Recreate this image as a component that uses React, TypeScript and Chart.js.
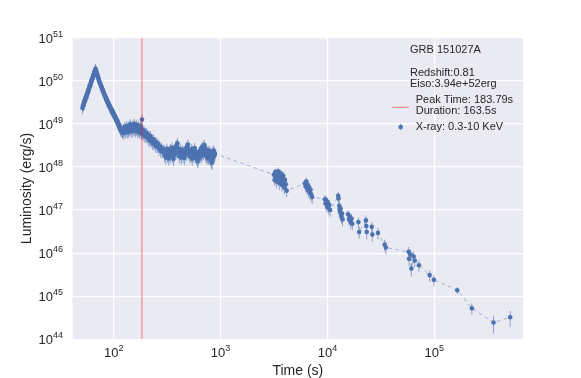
import { useEffect, useRef } from 'react';
import { Chart, registerables } from 'chart.js';

Chart.register(...registerables);

// ---- X-ray luminosity light curve, GRB 151027A (time in s, luminosity in erg/s) ----
const riseTime = [51, 51.5, 52, 52.5, 53, 53.5, 54, 54.5, 55, 55.5, 56, 56.5, 57, 57.5, 58, 58.5, 59, 59.5, 60, 60.5, 61, 61.5, 62, 62.5, 63, 63.5, 64, 64.5, 65, 65.5, 66, 66.5, 67, 67.5, 68];
const riseLum = [2.34e49, 2.63e49, 2.82e49, 2.75e49, 3.16e49, 3.55e49, 3.47e49, 3.98e49, 4.27e49, 4.17e49, 4.79e49, 5.01e49, 5.5e49, 5.37e49, 6.17e49, 6.31e49, 6.92e49, 7.59e49, 7.94e49, 7.76e49, 8.91e49, 9.33e49, 1.0e50, 1.05e50, 1.12e50, 1.15e50, 1.26e50, 1.32e50, 1.41e50, 1.48e50, 1.58e50, 1.66e50, 1.74e50, 1.91e50, 1.78e50];
const riseErr = 0.28;

const decayTime = [68.5, 69, 69.5, 70, 70.5, 71, 71.5, 72, 73, 74, 75, 76, 77, 78, 79, 80, 81, 82, 83, 84, 85, 86, 87, 88, 89, 90, 91, 92, 93, 94, 95, 96, 97, 98, 99, 100, 101, 102, 103, 104, 105, 106, 107, 108, 109, 110, 111, 112, 113, 114, 115, 116, 117, 118, 120];
const decayLum = [1.7e50, 1.58e50, 1.51e50, 1.41e50, 1.35e50, 1.26e50, 1.2e50, 1.12e50, 1.02e50, 9.12e49, 8.51e49, 7.59e49, 7.24e49, 6.46e49, 6.17e49, 5.5e49, 5.25e49, 4.68e49, 4.57e49, 4.07e49, 3.98e49, 3.55e49, 3.47e49, 3.16e49, 3.09e49, 2.82e49, 2.75e49, 2.51e49, 2.4e49, 2.29e49, 2.14e49, 2.09e49, 1.95e49, 1.91e49, 1.78e49, 1.74e49, 1.58e49, 1.55e49, 1.45e49, 1.41e49, 1.32e49, 1.29e49, 1.17e49, 1.2e49, 1.07e49, 1.02e49, 9.55e48, 9.77e48, 8.71e48, 8.32e48, 7.94e48, 7.24e48, 7.59e48, 6.92e48, 6.61e48];
const decayErr = 0.28;

const plateau1Time = [121, 122.5, 124, 125.5, 127, 128.5, 130, 131.5, 133, 134.5, 136, 137.5, 139, 140.5, 142, 143.5, 145, 146.5, 148, 149.5, 151, 152.5, 154, 155.5, 157, 158.5, 160, 161.5, 163, 164.5, 166, 167.5, 169, 170.5, 172, 173.5, 175, 176.5, 178, 179.5, 181, 182.5, 183.8, 185, 186.5];
const plateau1Lum = [6.61e48, 7.94e48, 6.17e48, 7.24e48, 8.51e48, 6.46e48, 7.59e48, 8.91e48, 6.92e48, 8.13e48, 6.31e48, 7.76e48, 9.12e48, 7.08e48, 8.32e48, 9.77e48, 7.41e48, 8.71e48, 6.76e48, 8.13e48, 9.33e48, 7.24e48, 8.51e48, 1.0e49, 7.59e48, 8.91e48, 6.92e48, 8.32e48, 9.55e48, 7.41e48, 8.51e48, 6.61e48, 7.94e48, 9.12e48, 7.08e48, 8.13e48, 6.31e48, 7.59e48, 8.71e48, 6.76e48, 7.76e48, 6.03e48, 1.26e49, 7.24e48, 6.31e48];
const plateau1Err = 0.3;

const decay2Time = [188, 190.5, 193, 195.5, 198, 200.5, 203, 206, 209, 212, 215, 218, 221, 224, 227, 231, 235, 239, 243, 247, 251, 255, 260, 265, 270, 275, 280, 285, 290];
const decay2Lum = [7.08e48, 5.75e48, 6.76e48, 5.25e48, 6.17e48, 5.13e48, 6.17e48, 5.01e48, 5.62e48, 4.37e48, 5.13e48, 4.17e48, 5.25e48, 4.07e48, 4.47e48, 3.55e48, 4.37e48, 3.47e48, 3.89e48, 3.02e48, 3.72e48, 3.02e48, 3.47e48, 2.63e48, 3.02e48, 2.34e48, 2.82e48, 2.29e48, 2.51e48];
const decay2Err = 0.3;

const plateau2Time = [
  295, 299, 303, 307, 311, 315, 319, 323, 327, 331, 335, 339, 343, 347, 351, 355, 359, 363, 367, 371, 375, 379, 383, 387, 391, 395, 399,
  405, 411, 417, 423, 429, 435, 441, 447, 453, 459, 465, 471, 477, 483, 489, 495, 501, 507, 513, 519, 525, 531, 537, 543, 549, 555, 561, 567, 573, 579, 585, 591, 597,
  603, 609, 615, 621, 627, 633, 639, 645, 651, 657, 663, 669, 675, 681, 687, 693, 699, 705, 711, 717, 723, 729, 735, 741, 747, 753, 759, 765, 771, 777, 783, 789, 795, 801, 807, 813, 819, 825, 831, 837, 843, 849, 855, 861, 867, 873, 879, 885,
];
const plateau2Lum = [
  2.51e48, 1.91e48, 2.29e48, 1.66e48, 2.14e48, 2.63e48, 1.82e48, 2.04e48, 1.58e48, 2.34e48, 1.95e48, 2.57e48, 1.74e48, 2.19e48, 2.82e48, 1.86e48, 2.09e48, 1.55e48, 2.29e48, 1.91e48, 2.51e48, 2.95e48, 2.14e48, 3.16e48, 2.4e48, 3.55e48, 2.75e48,
  2.29e48, 1.78e48, 2.09e48, 2.57e48, 1.66e48, 2.0e48, 2.4e48, 1.82e48, 2.24e48, 1.62e48, 2.14e48, 2.69e48, 1.95e48, 2.88e48, 2.34e48, 3.31e48, 2.51e48, 2.04e48, 2.45e48, 1.74e48, 2.19e48, 1.91e48, 2.63e48, 1.55e48, 2.04e48, 2.34e48, 1.78e48, 2.14e48, 2.75e48, 1.86e48, 2.29e48, 1.66e48, 2.0e48,
  1.62e48, 1.38e48, 1.86e48, 1.51e48, 2.14e48, 1.74e48, 2.29e48, 1.95e48, 2.51e48, 1.78e48, 2.19e48, 2.82e48, 2.0e48, 2.4e48, 3.02e48, 2.14e48, 2.63e48, 3.24e48, 2.34e48, 2.75e48, 2.0e48, 2.45e48, 1.82e48, 2.24e48, 1.66e48, 2.04e48, 1.86e48, 2.4e48, 1.74e48, 2.14e48, 1.58e48, 2.0e48, 2.29e48, 1.7e48, 2.04e48, 1.48e48, 1.91e48, 1.35e48, 1.26e48, 1.82e48, 2.19e48, 1.66e48, 2.0e48, 2.4e48, 1.78e48, 2.14e48, 1.91e48, 2.04e48,
];
const plateau2Err = 0.32;

const lateTime = [
  3150, 3200, 3260, 3300, 3350, 3400, 3450, 3500, 3550, 3600, 3650, 3700, 3750, 3800, 3850, 3900, 3950, 4000, 4080, 4150,
  6150, 6250, 6350, 6450, 6550, 6650, 6750, 6850, 6950, 7050, 7200,
  9450, 9600, 9750, 9900, 10050, 10200, 10400, 10600,
  12600, 12700, 12900, 13000, 13100, 13250, 13400, 13550, 13700, 13850,
  15600, 15900, 16200, 16500, 16800, 17100,
  19500, 19800, 22900, 23100, 23300, 26000, 26300, 29700, 34300, 35200,
  57500, 58000, 60100, 61000, 64100, 65500, 71800, 90400, 99100, 164000, 224600, 358000, 513000,
];
const lateLum = [
  6.61e47, 5.01e47, 7.59e47, 5.62e47, 4.57e47, 6.31e47, 7.94e47, 5.25e47, 4.17e47, 6.03e47, 7.08e47, 4.79e47, 3.8e47, 5.5e47, 6.31e47, 4.37e47, 3.31e47, 5.01e47, 3.98e47, 2.82e47,
  4.17e47, 3.55e47, 4.57e47, 3.16e47, 3.8e47, 2.82e47, 3.31e47, 2.51e47, 2.95e47, 2.29e47, 2.0e47,
  1.78e47, 1.41e47, 1.66e47, 1.26e47, 1.51e47, 1.12e47, 1.32e47, 1.0e47,
  2.14e47, 1.86e47, 1.26e47, 1.05e47, 9.12e46, 1.1e47, 7.94e46, 7.08e46, 8.32e46, 6.03e46,
  7.94e46, 6.03e46, 6.92e46, 5.25e46, 6.31e46, 4.79e46,
  5.25e46, 3.09e46, 5.75e46, 4.27e46, 3.09e46, 4.07e46, 2.69e46, 2.95e46, 1.58e46, 1.35e46,
  1.07e46, 7.41e45, 9.33e45, 4.37e45, 8.32e45, 6.76e45, 5.25e45, 3.09e45, 2.4e45, 1.38e45, 5.25e44, 2.45e44, 3.24e44,
];
const lateErr = [
  0.25, 0.28, 0.22, 0.26, 0.3, 0.24, 0.22, 0.27, 0.3, 0.25, 0.23, 0.28, 0.3, 0.25, 0.24, 0.28, 0.3, 0.26, 0.28, 0.3,
  0.25, 0.27, 0.24, 0.28, 0.26, 0.3, 0.27, 0.3, 0.28, 0.3, 0.3,
  0.25, 0.28, 0.26, 0.3, 0.27, 0.3, 0.28, 0.3,
  0.25, 0.28, 0.3, 0.3, 0.32, 0.28, 0.3, 0.32, 0.3, 0.3,
  0.25, 0.28, 0.26, 0.3, 0.27, 0.3,
  0.28, 0.3, 0.28, 0.3, 0.32, 0.3, 0.32, 0.3, 0.3, 0.3,
  0.3, 0.32, 0.3, 0.35, 0.3, 0.3, 0.3, 0.3, 0.28, 0.18, 0.3, 0.45, 0.4,
];

const xTicks = [1e2, 1e3, 1e4, 1e5];
const yTicks = [1e44, 1e45, 1e46, 1e47, 1e48, 1e49, 1e50, 1e51];
const xMin = 41.34;
const xMax = 676000;
const yMin = 1e44;
const yMax = 1e51;

const peakTime = 183.79;
const grbName = 'GRB 151027A';
const infoLines = ['Redshift:0.81', 'Eiso:3.94e+52erg'];
const peakLabel = ['Peak Time: 183.79s', 'Duration: 163.5s'];
const xrayLabel = 'X-ray: 0.3-10 KeV';
const xTitle = 'Time (s)';
const yTitle = 'Luminosity (erg/s)';

const FONT = '"Liberation Sans", Arial, Helvetica, sans-serif';
const TEXT = '#262626';
const BLUE = '#4C72B0';
const ERR_COLOR = 'rgba(76,114,176,0.6)';
const RED = 'rgba(255,0,0,0.5)';

export default function App() {
  const ref = useRef<HTMLCanvasElement>(null);

  useEffect(() => {
    const time = [...riseTime, ...decayTime, ...plateau1Time, ...decay2Time, ...plateau2Time, ...lateTime];
    const lum = [...riseLum, ...decayLum, ...plateau1Lum, ...decay2Lum, ...plateau2Lum, ...lateLum];
    const err = [
      ...riseTime.map(() => riseErr),
      ...decayTime.map(() => decayErr),
      ...plateau1Time.map(() => plateau1Err),
      ...decay2Time.map(() => decay2Err),
      ...plateau2Time.map(() => plateau2Err),
      ...lateErr,
    ];
    const points = time.map((t, i) => ({ x: t, y: lum[i] }));

    const decorations = {
      id: 'decorations',
      beforeDraw(chart: any) {
        const { ctx, chartArea: a } = chart;
        ctx.save();
        ctx.fillStyle = '#ffffff';
        ctx.fillRect(0, 0, chart.width, chart.height);
        ctx.fillStyle = '#EAEAF2';
        ctx.fillRect(a.left, a.top, a.right - a.left, a.bottom - a.top);
        ctx.restore();
      },
      beforeDatasetsDraw(chart: any) {
        const { ctx, chartArea: a } = chart;
        const xs = chart.scales.x;
        const ys = chart.scales.y;
        ctx.save();
        ctx.beginPath();
        ctx.rect(a.left, a.top, a.right - a.left, a.bottom - a.top);
        ctx.clip();
        ctx.strokeStyle = ERR_COLOR;
        ctx.lineWidth = 1;
        ctx.beginPath();
        for (let i = 0; i < time.length; i++) {
          const px = xs.getPixelForValue(time[i]);
          const hi = ys.getPixelForValue(lum[i] * (1 + err[i]));
          const lo = ys.getPixelForValue(lum[i] * (1 - err[i]));
          ctx.moveTo(px, hi);
          ctx.lineTo(px, lo);
        }
        ctx.stroke();
        ctx.restore();
      },
      afterDatasetsDraw(chart: any) {
        const { ctx, chartArea: a } = chart;
        const xs = chart.scales.x;
        const ys = chart.scales.y;
        ctx.save();
        const rx = xs.getPixelForValue(peakTime);
        ctx.strokeStyle = RED;
        ctx.lineWidth = 1;
        ctx.beginPath();
        ctx.moveTo(rx, a.top);
        ctx.lineTo(rx, a.bottom);
        ctx.stroke();

        ctx.fillStyle = TEXT;
        const drawPow = (exp: string, x: number, baseY: number, align: 'center' | 'right') => {
          ctx.font = `13px ${FONT}`;
          const w1 = ctx.measureText('10').width;
          ctx.font = `9px ${FONT}`;
          const w2 = ctx.measureText(exp).width;
          const x0 = align === 'center' ? x - (w1 + w2) / 2 : x - (w1 + w2);
          ctx.textAlign = 'left';
          ctx.textBaseline = 'alphabetic';
          ctx.font = `13px ${FONT}`;
          ctx.fillText('10', x0, baseY);
          ctx.font = `9px ${FONT}`;
          ctx.fillText(exp, x0 + w1, baseY - 6);
        };
        for (const v of xTicks) {
          drawPow(String(Math.round(Math.log10(v))), xs.getPixelForValue(v), 357, 'center');
        }
        for (const v of yTicks) {
          drawPow(String(Math.round(Math.log10(v))), 63, ys.getPixelForValue(v) + 5, 'right');
        }

        ctx.font = `14px ${FONT}`;
        ctx.textAlign = 'center';
        ctx.textBaseline = 'alphabetic';
        ctx.fillText(xTitle, (a.left + a.right) / 2, 375);
        ctx.save();
        ctx.translate(31, (a.top + a.bottom) / 2);
        ctx.rotate(-Math.PI / 2);
        ctx.fillText(yTitle, 0, 0);
        ctx.restore();

        ctx.font = `11px ${FONT}`;
        ctx.textAlign = 'left';
        ctx.fillText(grbName, 410, 52.7);
        ctx.fillText(infoLines[0], 410, 75.9);
        ctx.fillText(infoLines[1], 410, 87.4);
        ctx.fillText(peakLabel[0], 415.7, 102.7);
        ctx.fillText(peakLabel[1], 415.7, 114.3);
        ctx.fillText(xrayLabel, 415.7, 130);
        ctx.strokeStyle = RED;
        ctx.beginPath();
        ctx.moveTo(392.3, 107.3);
        ctx.lineTo(409, 107.3);
        ctx.stroke();
        ctx.strokeStyle = ERR_COLOR;
        ctx.beginPath();
        ctx.moveTo(400.7, 123.5);
        ctx.lineTo(400.7, 130.5);
        ctx.stroke();
        ctx.fillStyle = BLUE;
        ctx.beginPath();
        ctx.arc(400.7, 127, 2.3, 0, Math.PI * 2);
        ctx.fill();
        ctx.restore();
      },
    };

    const chart = new Chart(ref.current as HTMLCanvasElement, {
      type: 'line',
      data: {
        datasets: [
          {
            data: points,
            borderColor: 'rgba(76,114,176,0.55)',
            borderWidth: 0.9,
            borderDash: [3.5, 3.5],
            pointRadius: 2.3,
            pointHoverRadius: 2.3,
            pointBackgroundColor: BLUE,
            pointBorderWidth: 0,
            fill: false,
            tension: 0,
          },
        ],
      },
      options: {
        responsive: false,
        animation: false,
        events: [],
        layout: { padding: { left: 0, top: 37.7, right: 58, bottom: 0 } },
        scales: {
          x: {
            type: 'logarithmic',
            min: xMin,
            max: xMax,
            bounds: 'data',
            afterBuildTicks: (s: any) => {
              s.ticks = xTicks.map((v) => ({ value: v }));
            },
            afterFit: (s: any) => {
              s.height = 38.7;
            },
            ticks: { display: false },
            grid: { color: '#ffffff', lineWidth: 1.2, drawTicks: false },
            border: { display: false },
          },
          y: {
            type: 'logarithmic',
            min: yMin,
            max: yMax,
            bounds: 'data',
            afterBuildTicks: (s: any) => {
              s.ticks = yTicks.map((v) => ({ value: v }));
            },
            afterFit: (s: any) => {
              s.width = 72.7;
            },
            ticks: { display: false },
            grid: { color: '#ffffff', lineWidth: 1.2, drawTicks: false },
            border: { display: false },
          },
        },
        plugins: { legend: { display: false }, tooltip: { enabled: false } },
      } as any,
      plugins: [decorations],
    });
    return () => chart.destroy();
  }, []);

  return (
    <div style={{ position: 'absolute', left: 0, top: 0, width: 581, height: 378, background: '#fff' }}>
      <canvas ref={ref} width={581} height={378} style={{ display: 'block' }} />
    </div>
  );
}
